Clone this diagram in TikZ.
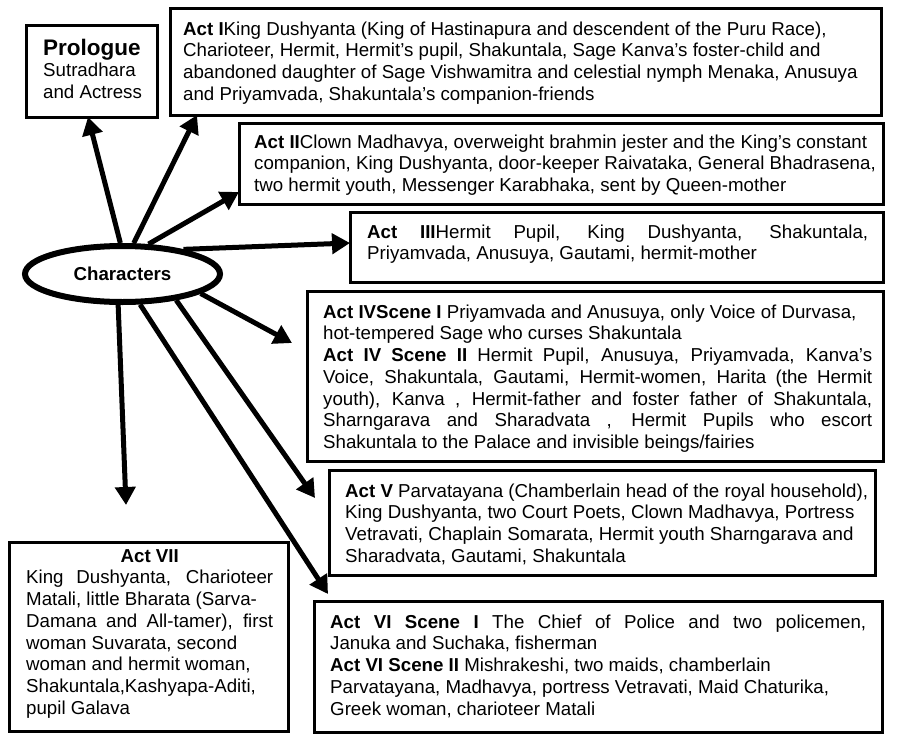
\documentclass[tikz,border=0pt]{standalone}
\usepackage{fontspec}
\setmainfont{Liberation Sans}
\usetikzlibrary{shapes.geometric,arrows.meta}
\newcommand\bodyfs{\fontsize{18.7}{21.7}\selectfont}
\newcommand\firstrow{\rule{0pt}{15pt}}
\newcommand\jline[2]{\makebox[#1pt][s]{#2}}
\begin{document}
\begin{tikzpicture}[x=1pt,y=-1pt,
  boxnode/.style={draw, line width=3pt, inner sep=0pt, outer sep=0pt, anchor=north west},
  txt/.style={anchor=north west, inner sep=0pt, align=left, font=\bodyfs},
  arr/.style={line width=5pt, -{Triangle[length=18pt,width=20pt]}}]
\useasboundingbox (0,0) rectangle (899,736);

% boxes
\node[boxnode, minimum width=131pt, minimum height=92pt]  (pro)  at (26,25)  {};
\node[boxnode, minimum width=711pt, minimum height=107pt] (act1) at (170,8)  {};
\node[boxnode, minimum width=644pt, minimum height=81pt]  (act2) at (239,123) {};
\node[boxnode, minimum width=533pt, minimum height=70pt]  (act3) at (350,212) {};
\node[boxnode, minimum width=576pt, minimum height=170pt] (act4) at (307,291) {};
\node[boxnode, minimum width=546pt, minimum height=105pt] (act5) at (329,470) {};
\node[boxnode, minimum width=568pt, minimum height=131pt] (act6) at (314,601) {};
\node[boxnode, minimum width=279pt, minimum height=189pt] (act7) at (9,542)  {};

% texts
\node[txt] (prot) at (43,38) {\rule{0pt}{17pt}{\fontsize{22.5}{26}\selectfont\bfseries Prologue}\\
Sutradhara\\
and Actress};

\node[txt] (act1t) at (183,20) {\firstrow\textbf{Act I}King Dushyanta (King of Hastinapura and descendent of the Puru Race),\\
Charioteer, Hermit, Hermit’s pupil, Shakuntala, Sage Kanva’s foster-child and\\
abandoned daughter of Sage Vishwamitra and celestial nymph Menaka, Anusuya\\
and Priyamvada, Shakuntala’s companion-friends};

\node[txt] (act2t) at (254,133) {\firstrow\textbf{Act II}Clown Madhavya, overweight brahmin jester and the King’s constant\\
companion, King Dushyanta, door-keeper Raivataka, General Bhadrasena,\\
two hermit youth, Messenger Karabhaka, sent by Queen-mother};

\node[txt] (act3t) at (367,223) {\firstrow\jline{501}{\textbf{Act III}Hermit Pupil, King Dushyanta, Shakuntala,}\\
Priyamvada, Anusuya, Gautami, hermit-mother};

\node[txt] (act4t) at (323,303) {\firstrow\textbf{Act IVScene I} Priyamvada and Anusuya, only Voice of Durvasa,\\
hot-tempered Sage who curses Shakuntala\\
\jline{549}{\textbf{Act IV Scene II} Hermit Pupil, Anusuya, Priyamvada, Kanva’s}\\
\jline{549}{Voice, Shakuntala, Gautami, Hermit-women, Harita (the Hermit}\\
\jline{549}{youth), Kanva , Hermit-father and foster father of Shakuntala,}\\
\jline{549}{Sharngarava and Sharadvata , Hermit Pupils who escort}\\
Shakuntala to the Palace and invisible beings/fairies};

\node[txt] (act5t) at (345,482) {\firstrow\textbf{Act V} Parvatayana (Chamberlain head of the royal household),\\
King Dushyanta, two Court Poets, Clown Madhavya, Portress\\
Vetravati, Chaplain Somarata, Hermit youth Sharngarava and\\
Sharadvata, Gautami, Shakuntala};

\node[txt] (act6t) at (330,613) {\firstrow\jline{536}{\textbf{Act VI Scene I} The Chief of Police and two policemen,}\\
Januka and Suchaka, fisherman\\
\textbf{Act VI Scene II} Mishrakeshi, two maids, chamberlain\\
Parvatayana, Madhavya, portress Vetravati, Maid Chaturika,\\
Greek woman, charioteer Matali};

\node[txt] (act7t) at (26,547) {\firstrow\makebox[247pt]{\textbf{Act VII}}\\
\jline{247}{King Dushyanta, Charioteer}\\
Matali, little Bharata (Sarva-\\
\jline{247}{Damana and All-tamer), first}\\
woman Suvarata, second\\
woman and hermit woman,\\
Shakuntala,Kashyapa-Aditi,\\
pupil Galava};

% central ellipse
\node[draw, ellipse, line width=6pt, minimum width=195pt, minimum height=56pt, inner sep=0pt,
      font=\bfseries\fontsize{18.7}{22}\selectfont] (chars) at (122.5,274) {Characters};

% arrows
\draw[arr] (chars.94)  -- ([xshift=62pt]pro.south west);
\draw[arr] (chars.70)  -- ([xshift=27pt]act1.south west);
\draw[arr] (chars.49)  -- ([yshift=12pt]act2.south west);
\draw[arr] (chars.22)  -- ([yshift=-31pt]act3.north west);
\draw[arr] (chars.-14) -- ([xshift=-15pt,yshift=-52pt]act4.north west);
\draw[arr] (chars.-26) -- ([xshift=-14pt,yshift=-28pt]act5.north west);
\draw[arr] (chars.-60) -- ([xshift=14pt,yshift=7pt]act6.north west);
\draw[arr] (chars.-98) -- ([xshift=117pt,yshift=37pt]act7.north west);
\end{tikzpicture}
\end{document}
